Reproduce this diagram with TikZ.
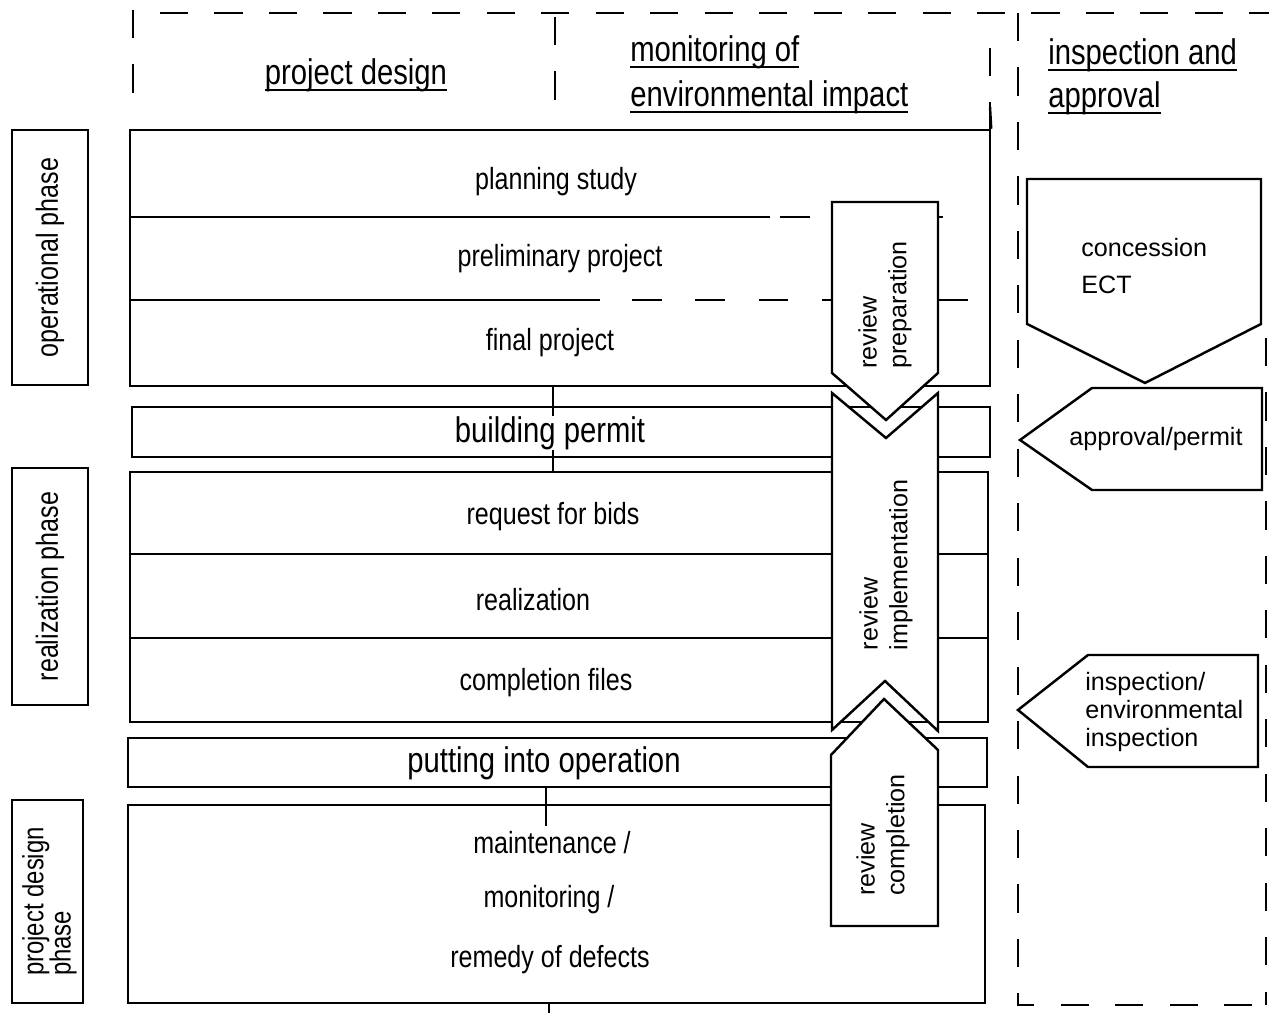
\documentclass[tikz,border=0pt]{standalone}
\usepackage{fontspec}
\setmainfont[FakeStretch=0.82]{Liberation Sans}
\newfontfamily\plainsf{Liberation Sans}
\usetikzlibrary{fit}

% underline with a heavier rule than \underline gives
\newcommand\ulined[1]{\setbox0\hbox{#1}\leavevmode\rlap{\rule[-4pt]{\wd0}{1.2pt}}\box0}

\tikzset{
  frame/.style={line width=1.3pt, dash pattern=on 16pt off 15pt},
  box/.style={draw, line width=1.4pt, inner sep=0pt, rectangle},
  rule/.style={line width=1.4pt},
  part/.style={line width=1.4pt, dash pattern=on 17pt off 19pt},
  tag/.style={draw, fill=white, line width=1.4pt, line join=miter},
  txt/.style={inner sep=0pt, font=\fontsize{17.4}{19}\selectfont},
  big/.style={inner sep=0pt, font=\fontsize{20.3}{22}\selectfont},
  head/.style={inner sep=0pt, font=\fontsize{20.3}{22}\selectfont},
  rev/.style={inner sep=0pt, rotate=90, align=left, font=\plainsf\fontsize{14.3}{17}\selectfont},
  side/.style={inner sep=0pt, align=left, font=\plainsf\fontsize{14.3}{15.9}\selectfont},
}

\begin{document}
\begin{tikzpicture}[x=0.02cm,y=-0.02cm]
\useasboundingbox (0,0) rectangle (1269,1013);
\fill[white] (0,0) rectangle (1269,1013);

% dashed column frame
\draw[frame] (133,10) -- (133,100);
\draw[frame] (160,13) -- (1269,13);
\draw[frame] (555,17) -- (555,108);
\draw[frame] (990,48) -- (990,130);
\draw[frame] (1018,13) -- (1018,1005) -- (1269,1005);
\draw[frame] (1266,338) -- (1266,1005);

% column headings
\node[head] (hdesign) at (356,75) {\ulined{project design}};
\node[head, anchor=west] (hmon1) at (630,52) {\ulined{monitoring of}};
\node[head, anchor=west] (hmon2) at (630,97) {\ulined{environmental impact}};
\node[head, anchor=west] (hins1) at (1048,55) {\ulined{inspection and}};
\node[head, anchor=west] (hins2) at (1048,98) {\ulined{approval}};

% phase labels
\node[box, fit={(12,130) (88,385)}] (opbox) {};
\node[txt, rotate=90] (optxt) at (opbox.center) {operational phase};
\node[box, fit={(12,468) (88,705)}] (rebox) {};
\node[txt, rotate=90] (retxt) at (rebox.center) {realization phase};
\node[box, fit={(12,800) (83,1003)}] (pdbox) {};
\node[txt, rotate=90, align=left, font=\fontsize{16.6}{15.6}\selectfont] (pdtxt) at ([xshift=0.04cm]pdbox.center) {project design\\phase};

% project stages
\node[box, fit={(130,130) (990,386)}] (ops) {};
\draw[rule] (ops.north east) -- (990,107);
\draw[rule] (130,217) -- (770,217);
\draw[part] (780,217) -- (831,217);
\draw[rule] (936,217) -- (943,217);
\draw[rule] (130,300) -- (600,300);
\draw[part] (632,300) -- (831,300);
\draw[rule] (938,300) -- (968,300);

\node[box, fit={(132,407) (990,457)}] (permit) {};
\node[box, fit={(130,472) (988,722)}] (real) {};
\draw[rule] (130,554) -- (988,554);
\draw[rule] (130,638) -- (988,638);
\node[box, fit={(128,738) (987,787)}] (oper) {};
\node[box, fit={(128,805) (985,1003)}] (maint) {};

% connectors between stages
\coordinate (tick) at (546,826);
\coordinate (down) at (549,1013);
\draw[rule] (553,0 |- ops.south) -- (553,0 |- real.north);
\draw[rule] (546,0 |- oper.south) -- (tick);
\draw[rule] (549,0 |- maint.south) -- (down);

% stage texts
\node[txt] (t1) at (556,182) {planning study};
\node[txt] (t2) at (560,259) {preliminary project};
\node[txt] (t3) at (550,343) {final project};
\node[big, fill=white] (t4) at (550,433) {building permit};
\node[txt] (t5) at (553,517) {request for bids};
\node[txt] (t6) at (533,600) {realization};
\node[txt] (t7) at (546,683) {completion files};
\node[big] (t8) at (544,763) {putting into operation};
\node[txt] (t9) at (552,843) {maintenance /};
\node[txt] (t10) at (549,900) {monitoring /};
\node[txt] (t11) at (550,960) {remedy of defects};

% review arrows
\draw[tag] (832,202) -- (938,202) -- (938,373) -- (886,420) -- (832,373) -- cycle;
\draw[tag] (832,393) -- (886,438) -- (938,393) -- (938,731) -- (885,681) -- (832,730) -- cycle;
\draw[tag] (831,755) -- (884,699) -- (938,750) -- (938,926) -- (831,926) -- cycle;
\node[rev] (rprep) at (885,305) {review\\preparation};
\node[rev] (rimpl) at (886,565) {review\\implementation};
\node[rev] (rcomp) at (883,835) {review\\completion};

% inspection and approval
\draw[tag] (1027,179) -- (1261,179) -- (1261,324) -- (1145,383) -- (1027,324) -- cycle;
\node[side, anchor=west, font=\plainsf\fontsize{14.3}{21}\selectfont] (conc) at (1081,266) {concession\\ECT};
\draw[tag] (1020,440) -- (1092,388) -- (1262,388) -- (1262,490) -- (1092,490) -- cycle;
\node[side] (appr) at (1156,439) {approval/permit};
\draw[tag] (1018,710) -- (1088,655) -- (1258,655) -- (1258,767) -- (1088,767) -- cycle;
\node[side, anchor=west] (insp) at (1085,712) {inspection/\\environmental\\inspection};
\end{tikzpicture}
\end{document}
